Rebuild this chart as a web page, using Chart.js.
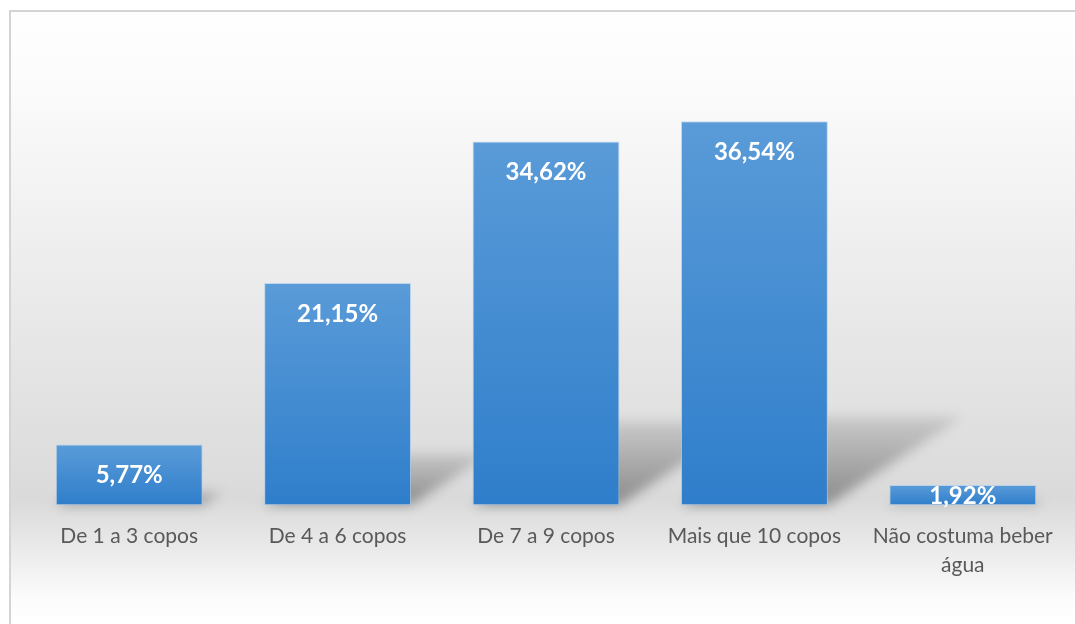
<!DOCTYPE html>
<html><head><meta charset="utf-8">
<script src="https://cdn.jsdelivr.net/npm/chart.js@4.4.1/dist/chart.umd.min.js"></script>
<style>html,body{margin:0;padding:0;background:#fff}#wrap{width:1075px;height:624px}</style>
</head><body><div id="wrap"><canvas id="c" width="1075" height="624"></canvas></div>
<script>
const categories = [['De 1 a 3 copos'], ['De 4 a 6 copos'], ['De 7 a 9 copos'], ['Mais que 10 copos'], ['Não costuma beber', 'água']];
const percentages = [5.77, 21.15, 34.62, 36.54, 1.92];
const valueLabels = ['5,77%', '21,15%', '34,62%', '36,54%', '1,92%'];

const bgPlugin = {
  id: 'bg',
  beforeDraw(chart) {
    const ctx = chart.ctx, W = chart.width, H = chart.height;
    ctx.save();
    const g = ctx.createLinearGradient(0, 0, 0, H);
    g.addColorStop(0, '#ffffff');
    g.addColorStop(0.12, '#fcfcfc');
    g.addColorStop(0.40, '#eeeeee');
    g.addColorStop(0.72, '#dedede');
    g.addColorStop(0.80, '#dadada');
    g.addColorStop(0.88, '#eaeaea');
    g.addColorStop(0.96, '#fcfcfc');
    g.addColorStop(1, '#ffffff');
    ctx.fillStyle = g;
    ctx.fillRect(10, 11, W - 10, H - 11);
    ctx.strokeStyle = '#d4d4d4';
    ctx.lineWidth = 2;
    ctx.beginPath();
    ctx.moveTo(10, H); ctx.lineTo(10, 11); ctx.lineTo(W, 11);
    ctx.stroke();
    ctx.restore();
  },
  beforeDatasetsDraw(chart) {
    const ctx = chart.ctx;
    const meta = chart.getDatasetMeta(0);
    ctx.save();
    ctx.filter = 'blur(6px)';
    meta.data.forEach(el => {
      const h = el.base - el.y;
      const x0 = el.x - el.width / 2, x1 = el.x + el.width / 2;
      const sh = h * 0.23, dx = h * 0.35;
      const g = ctx.createLinearGradient(0, el.base, 0, el.base - sh);
      g.addColorStop(0, 'rgba(0,0,0,0.36)');
      g.addColorStop(1, 'rgba(0,0,0,0.10)');
      ctx.fillStyle = g;
      ctx.beginPath();
      ctx.moveTo(x0, el.base);
      ctx.lineTo(x1, el.base);
      ctx.lineTo(x1 + dx, el.base - sh);
      ctx.lineTo(x0 + dx, el.base - sh);
      ctx.closePath();
      ctx.fill();
    });
    ctx.restore();
  },
  afterDatasetsDraw(chart) {
    const ctx = chart.ctx;
    const meta = chart.getDatasetMeta(0);
    ctx.save();
    ctx.fillStyle = '#ffffff';
    ctx.font = 'bold 24px Lato';
    ctx.textAlign = 'center';
    ctx.textBaseline = 'middle';
    meta.data.forEach((el, i) => {
      const y = Math.min(el.y + 30, (el.y + el.base) / 2);
      ctx.fillText(valueLabels[i], el.x, y + 1);
    });
    ctx.restore();
  }
};

new Chart(document.getElementById('c'), {
  type: 'bar',
  data: {
    labels: categories,
    datasets: [{
      data: percentages,
      backgroundColor(c) {
        const chart = c.chart;
        if (c.type !== 'data' || !chart.chartArea) return '#3f88d2';
        const ys = chart.scales.y;
        const top = ys.getPixelForValue(percentages[c.dataIndex]);
        const base = ys.getPixelForValue(0);
        const g = chart.ctx.createLinearGradient(0, top, 0, base);
        g.addColorStop(0, '#5a9bd8');
        g.addColorStop(1, '#2f7ecb');
        return g;
      },
      borderColor: 'rgba(170,205,240,0.7)',
      borderWidth: 1,
      borderSkipped: false,
      barPercentage: 0.705,
      categoryPercentage: 1
    }]
  },
  options: {
    responsive: false,
    animation: false,
    layout: { padding: { left: 25, right: 8, top: 85, bottom: 28 } },
    plugins: { legend: { display: false }, tooltip: { enabled: false } },
    scales: {
      y: { display: false, min: 0, max: 40 },
      x: {
        grid: { display: false, drawTicks: false },
        border: { display: false },
        ticks: {
          color: '#595959',
          padding: 16,
          maxRotation: 0,
          autoSkip: false,
          font: { family: 'Lato', size: 21, lineHeight: 1.4 }
        }
      }
    }
  },
  plugins: [bgPlugin]
});
</script>
</body></html>
